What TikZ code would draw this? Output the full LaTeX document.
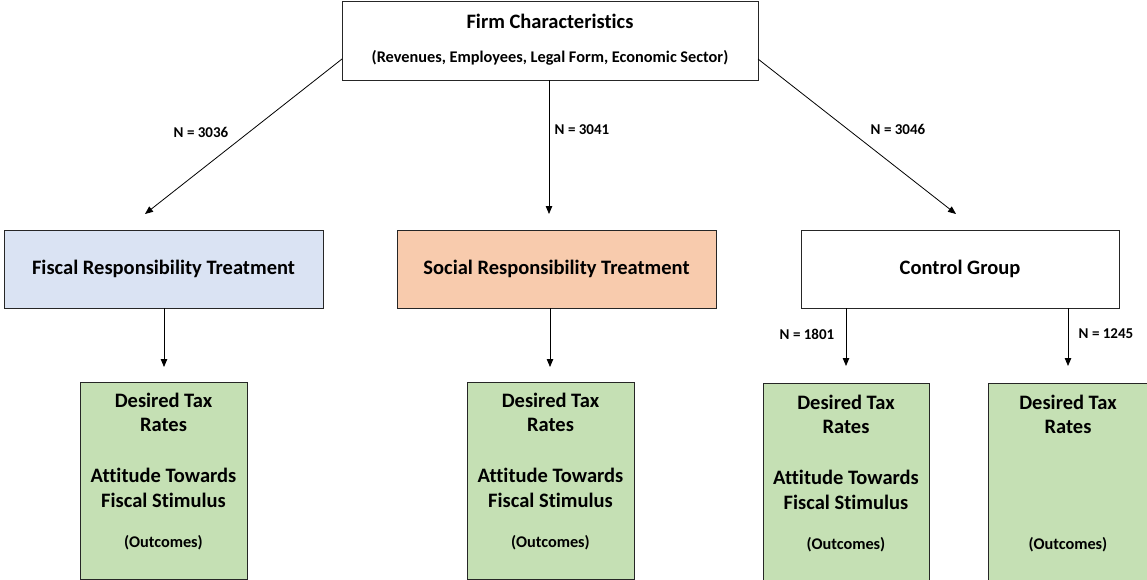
\documentclass[tikz,border=0pt]{standalone}
\usepackage{fontspec}
\setmainfont{Carlito}[Ligatures=NoCommon]
\usetikzlibrary{arrows.meta}
\definecolor{fiscalblue}{HTML}{DAE3F3}
\definecolor{socialorange}{HTML}{F8CBAD}
\definecolor{outgreen}{HTML}{C5E0B4}
\definecolor{edgecol}{HTML}{262626}
\begin{document}
\begin{tikzpicture}[x=1pt,y=-1pt,
  box/.style={draw=edgecol, line width=0.9pt, rectangle, inner sep=0pt},
  treat/.style={box, minimum width=319pt, minimum height=78pt, font=\bfseries\fontsize{20.5}{24}\selectfont},
  outbox/.style={box, fill=outgreen, minimum width=167pt},
  big/.style={font=\bfseries\fontsize{20.5}{24}\selectfont, inner sep=0pt},
  small/.style={font=\bfseries\fontsize{16.3}{19}\selectfont, inner sep=0pt},
  lbl/.style={font=\bfseries\fontsize{15}{18}\selectfont, inner sep=0pt},
  arr/.style={draw=black, line width=0.8pt, -{Triangle[length=8pt,width=6.5pt]}}]
\useasboundingbox (0,0) rectangle (1147,580);
\clip (0,0) rectangle (1147,580);
\fill[white] (0,0) rectangle (1147,580);

% top box
\node[box, fill=white, minimum width=416pt, minimum height=79pt] (top) at (550,40.5) {};
\node[big] (toptitle) at (550,21) {Firm Characteristics};
\node[small] (topsub) at (550,58) {(Revenues, Employees, Legal Form, Economic Sector)};

% treatment boxes
\node[treat, fill=fiscalblue] (fiscal) at (163.5,269) {Fiscal Responsibility Treatment};
\node[treat, fill=socialorange] (social) at (556.5,269) {Social Responsibility Treatment};
\node[treat, fill=white, minimum width=318pt] (control) at (960,269) {Control Group};

% outcome boxes
\node[outbox, minimum height=197pt] (outF) at (163.5,480.5) {};
\node[outbox, minimum height=197pt] (outS) at (550.5,480.5) {};
\node[outbox, minimum width=166pt, minimum height=230pt] (outC1) at (846,498) {};
\node[outbox, minimum width=166pt, minimum height=230pt] (outC2) at (1071,498) {};

% outcome texts
\foreach \nm/\x/\dy in {F/163.5/0, S/550.5/0, C1/846/2}{
  \node[big] (dt\nm) at (\x,400+\dy) {Desired Tax};
  \node[big] (ra\nm) at (\x,425+\dy) {Rates};
  \node[big] (at\nm) at (\x,475+\dy) {Attitude Towards};
  \node[big] (fs\nm) at (\x,500+\dy) {Fiscal Stimulus};
  \node[small] (oc\nm) at (\x,543+\dy) {(Outcomes)};
}
\node[big] (dtC2) at (1068,402) {Desired Tax};
\node[big] (raC2) at (1068,427) {Rates};
\node[small] (ocC2) at (1068,545) {(Outcomes)};

% arrow end points
\coordinate (sL) at (342,59);
\coordinate (sR) at (758,59);
\coordinate (eL) at (145,214);
\coordinate (eM) at (549,214);
\coordinate (eR) at (956,214);
\coordinate (fF) at (164,367);
\coordinate (fS) at (550,367);
\coordinate (fC1) at (846,366);
\coordinate (fC2) at (1068,366);

\draw[arr] (sL) -- (eL);
\draw[arr] (top.south -| eM) -- (eM);
\draw[arr] (sR) -- (eR);
\draw[arr] (fiscal.south -| fF) -- (fF);
\draw[arr] (social.south -| fS) -- (fS);
\draw[arr] (control.south -| fC1) -- (fC1);
\draw[arr] (control.south -| fC2) -- (fC2);

% labels
\node[lbl] (n1) at (201,132) {N = 3036};
\node[lbl] (n2) at (582,130) {N = 3041};
\node[lbl] (n3) at (898,129) {N = 3046};
\node[lbl] (n4) at (807,334) {N = 1801};
\node[lbl] (n5) at (1106,334) {N = 1245};
\end{tikzpicture}
\end{document}
